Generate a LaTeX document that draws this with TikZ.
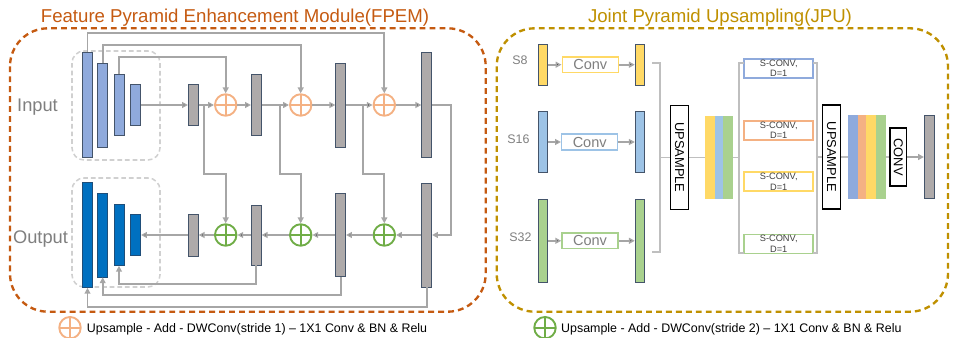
\documentclass[tikz,border=0pt]{standalone}
\usepackage{fontspec}
\setmainfont{Liberation Sans}
\usetikzlibrary{arrows.meta}
\definecolor{fpemorange}{HTML}{C55A11}
\definecolor{jpugold}{HTML}{BF9000}
\definecolor{linegray}{HTML}{A6A6A6}
\definecolor{wiregray}{HTML}{BFBFBF}
\definecolor{boxgray}{HTML}{D0D0D0}
\definecolor{barfill}{HTML}{AEAAAA}
\definecolor{barline}{HTML}{44546A}
\definecolor{outedge}{HTML}{1F4E79}
\definecolor{inblue}{HTML}{8FAADC}
\definecolor{outblue}{HTML}{0070C0}
\definecolor{addorange}{HTML}{F4B183}
\definecolor{addgreen}{HTML}{70AD47}
\definecolor{fyellow}{HTML}{FFD966}
\definecolor{fblue}{HTML}{9DC3E6}
\definecolor{fgreen}{HTML}{A9D18E}
\definecolor{textgray}{HTML}{7F7F7F}
\definecolor{darktext}{HTML}{404040}
\newcommand\pxu{0.03cm}
\begin{document}
\begin{tikzpicture}
  [x=0.03cm,y=-0.03cm,every node/.style={inner sep=0pt},
   fmap/.style={draw=barline,line width=0.6pt,minimum width=10*\pxu,minimum height=#1*\pxu},
   slim/.style={draw=barline,line width=0.6pt,minimum width=9*\pxu,minimum height=#1*\pxu},
   layer/.style={fill=#1,minimum height=83.4*\pxu},
   addc/.style={circle,draw=#1,fill=white,line width=1.6pt,minimum size=21.5*\pxu,
     path picture={\draw[#1,line width=1.6pt]
       (path picture bounding box.north) -- (path picture bounding box.south)
       (path picture bounding box.west) -- (path picture bounding box.east);}},
   link/.style={draw=linegray,line width=1.6pt,-{Triangle[length=5pt,width=5pt]}},
   wire/.style={draw=wiregray,line width=1.4pt},
   lbl/.style={text=textgray,font=\fontsize{15.6}{18}\selectfont},
   slbl/.style={text=textgray,font=\fontsize{10.6}{12}\selectfont},
   ttl/.style={font=\fontsize{15.9}{18}\selectfont},
   note/.style={font=\fontsize{10.6}{12}\selectfont},
   convbox/.style={draw=#1,line width=1.3pt,fill=white,minimum width=56*\pxu,
     minimum height=15.6*\pxu,text=textgray,font=\fontsize{12.4}{14}\selectfont},
   sconv/.style={draw=#1,line width=1.3pt,fill=white,minimum width=69*\pxu,
     minimum height=19*\pxu,align=center,text=darktext,font=\fontsize{7.9}{8.8}\selectfont},
   upbox/.style={draw=black,line width=1.3pt,fill=white,rotate=-90,
     font=\fontsize{11}{13}\selectfont}]
  \useasboundingbox (0,0) rectangle (955,338);

  \draw[fpemorange,line width=2pt,dash pattern=on 5pt off 3.5pt,rounded corners=1.14cm]
    (10,28.3) rectangle (485.7,311.7);
  \draw[jpugold,line width=2pt,dash pattern=on 5pt off 3.5pt,rounded corners=1.14cm]
    (496.7,28.3) rectangle (948,311.7);
  \draw[boxgray,line width=1.3pt,dash pattern=on 4pt off 2.5pt,rounded corners=0.36cm]
    (72,51) rectangle (160,160);
  \draw[boxgray,line width=1.3pt,dash pattern=on 4pt off 2.5pt,rounded corners=0.36cm]
    (72,178) rectangle (160,287);

  \node[ttl,text=fpemorange,anchor=base] (tf) at (235,22.7) {Feature Pyramid Enhancement Module(FPEM)};
  \node[ttl,text=jpugold,anchor=base] (tj) at (720,22.7) {Joint Pyramid Upsampling(JPU)};
  \node[lbl,anchor=base] (tin) at (37.5,111.7) {Input};
  \node[lbl,anchor=base] (tout) at (40.5,243.3) {Output};

  \node[fmap=105,fill=inblue] (in1) at (87.5,105) {};
  \node[fmap=84,fill=inblue] (in2) at (102.7,105) {};
  \node[fmap=61,fill=inblue] (in3) at (119,105) {};
  \node[fmap=41,fill=inblue] (in4) at (135.7,105) {};
  \node[fmap=41,fill=barfill] (a1) at (193.3,105) {};
  \node[addc=addorange] (p1) at (225.7,105) {};
  \node[fmap=61,fill=barfill] (a2) at (256.3,105) {};
  \node[addc=addorange] (p2) at (300.7,105) {};
  \node[fmap=84,fill=barfill] (a3) at (340.7,105) {};
  \node[addc=addorange] (p3) at (384.3,105) {};
  \node[fmap=105,fill=barfill] (a4) at (426.7,105) {};

  \node[fmap=105,fill=outblue,draw=outedge] (out1) at (87.5,235) {};
  \node[fmap=84,fill=outblue,draw=outedge] (out2) at (102.7,235) {};
  \node[fmap=61,fill=outblue,draw=outedge] (out3) at (119,235) {};
  \node[fmap=41,fill=outblue,draw=outedge] (out4) at (135.7,235) {};
  \node[fmap=42,fill=barfill] (b1) at (193.3,235) {};
  \node[addc=addgreen] (g1) at (225.7,235) {};
  \node[fmap=60,fill=barfill] (b2) at (256.3,235) {};
  \node[addc=addgreen] (g2) at (300.7,235) {};
  \node[fmap=83,fill=barfill] (b3) at (340.7,235) {};
  \node[addc=addgreen] (g3) at (384.3,235) {};
  \node[fmap=104,fill=barfill] (b4) at (426.7,235) {};

  \coordinate (lvA) at (0,33.3);
  \coordinate (lvB) at (0,45);
  \coordinate (lvC) at (0,56.7);
  \coordinate (lvD) at (0,174.3);
  \coordinate (lvE) at (0,284.3);
  \coordinate (lvF) at (0,295.3);
  \coordinate (lvG) at (0,306.7);
  \coordinate (br1) at (204.3,105);
  \coordinate (br2) at (279.7,105);
  \coordinate (br3) at (363.3,105);
  \coordinate (rt) at (450.7,105);

  \path[link]
    (in4) edge (a1)
    (a1) edge (p1)
    (p1) edge (a2)
    (a2) edge (p2)
    (p2) edge (a3)
    (a3) edge (p3)
    (p3) edge (a4)
    (b4) edge (g3)
    (g3) edge (b3)
    (b3) edge (g2)
    (g2) edge (b2)
    (b2) edge (g1)
    (g1) edge (b1)
    (b1) edge (out4);
  \draw[link] (in1.north) -- (in1.north |- lvA) -| (p3.north);
  \draw[link] (in2.north) -- (in2.north |- lvB) -| (p2.north);
  \draw[link] (in3.north) -- (in3.north |- lvC) -| (p1.north);
  \draw[link] (br1) -- (br1 |- lvD) -| (g1.north);
  \draw[link] (br2) -- (br2 |- lvD) -| (g2.north);
  \draw[link] (br3) -- (br3 |- lvD) -| (g3.north);
  \draw[link] (a4.east) -- (rt) |- (b4.east);
  \draw[link] (b2.south) -- (b2.south |- lvE) -| (out3.south);
  \draw[link] (b3.south) -- (b3.south |- lvF) -| (out2.south);
  \draw[link] (b4.south) -- (b4.south |- lvG) -| (out1.south);

  \node[slbl,anchor=base] (s8) at (520,64) {S8};
  \node[slbl,anchor=base] (s16) at (518.5,143.3) {S16};
  \node[slbl,anchor=base] (s32) at (520.5,241.3) {S32};
  \node[slim=40.7,fill=fyellow] (y8a) at (543.3,64.7) {};
  \node[convbox=fyellow] (c8) at (590.3,64.7) {Conv};
  \node[slim=40.7,fill=fyellow] (y8b) at (639.7,64.7) {};
  \node[slim=60.6,fill=fblue] (b16a) at (543.3,142) {};
  \node[convbox=fblue] (c16) at (589.7,142) {Conv};
  \node[slim=60.6,fill=fblue] (b16b) at (639.7,142) {};
  \node[slim=83,fill=fgreen] (g32a) at (543.3,240.8) {};
  \node[convbox=fgreen] (c32) at (590,240.8) {Conv};
  \node[slim=83,fill=fgreen] (g32b) at (639.7,240.8) {};
  \path[link]
    (y8a) edge (c8)
    (c8) edge (y8b)
    (b16a) edge (c16)
    (c16) edge (b16b)
    (g32a) edge (c32)
    (c32) edge (g32b);

  \node[upbox,minimum width=104*\pxu,minimum height=17.6*\pxu] (up1) at (679.5,157.5) {UPSAMPLE};
  \node[layer=fyellow,minimum width=10*\pxu] (st1a) at (710,157.5) {};
  \node[layer=fblue,minimum width=8.3*\pxu] (st1b) at (719.2,157.5) {};
  \node[layer=fgreen,minimum width=9.4*\pxu] (st1c) at (728,157.5) {};
  \node[sconv=inblue] (sc1) at (778.7,68.3) {S-CONV,\\D=1};
  \node[sconv=addorange] (sc2) at (778.7,130.3) {S-CONV,\\D=1};
  \node[sconv=fyellow] (sc3) at (778.7,181.7) {S-CONV,\\D=1};
  \node[sconv=fgreen] (sc4) at (778.7,243.8) {S-CONV,\\D=1};
  \node[upbox,minimum width=104*\pxu,minimum height=17.6*\pxu] (up2) at (831.5,157) {UPSAMPLE};
  \node[layer=inblue,minimum width=10*\pxu] (st2a) at (853.3,157) {};
  \node[layer=addorange,minimum width=7.7*\pxu] (st2b) at (862.2,157) {};
  \node[layer=fyellow,minimum width=10*\pxu] (st2c) at (871,157) {};
  \node[layer=fgreen,minimum width=10*\pxu] (st2d) at (881,157) {};
  \node[upbox,minimum width=57.7*\pxu,minimum height=16.7*\pxu] (cv) at (898.3,157) {CONV};
  \node[fmap=83,fill=barfill] (gout) at (929.3,157) {};

  \coordinate (k1t) at (652.3,62.7);
  \coordinate (k1b) at (652.3,252);
  \coordinate (k1) at (660,157.5);
  \coordinate (k2t) at (744,62.7);
  \coordinate (k2b) at (744,252.7);
  \coordinate (k2) at (739,157.5);
  \coordinate (k3t) at (813.3,62.7);
  \coordinate (k3b) at (813.3,252.7);
  \coordinate (k3) at (816.7,157);
  \draw[wire] (k1t) -| (k1) |- (k1b);
  \draw[wire] (k1) -- (up1.south);
  \draw[wire] (up1.north) -- (st1a.west);
  \draw[wire] (st1c.east) -- (k2);
  \draw[wire] (k2t) -| (k2) |- (k2b);
  \draw[wire] (k3t) -| (k3) |- (k3b);
  \draw[wire] (k3) -- (up2.south);
  \draw[wire] (up2.north) -- (st2a.west);
  \draw[wire] (st2d.east) -- (cv.south);
  \draw[link] (cv.north) -- (gout.west);

  \node[addc=addorange] (lg1) at (70,327.7) {};
  \node[note,anchor=base west] (nt1) at (86.7,332.3) {Upsample - Add - DWConv(stride 1) – 1X1 Conv \& BN \& Relu};
  \node[addc=addgreen] (lg2) at (545,327.7) {};
  \node[note,anchor=base west] (nt2) at (561,332.3) {Upsample - Add - DWConv(stride 2) – 1X1 Conv \& BN \& Relu};
\end{tikzpicture}
\end{document}
